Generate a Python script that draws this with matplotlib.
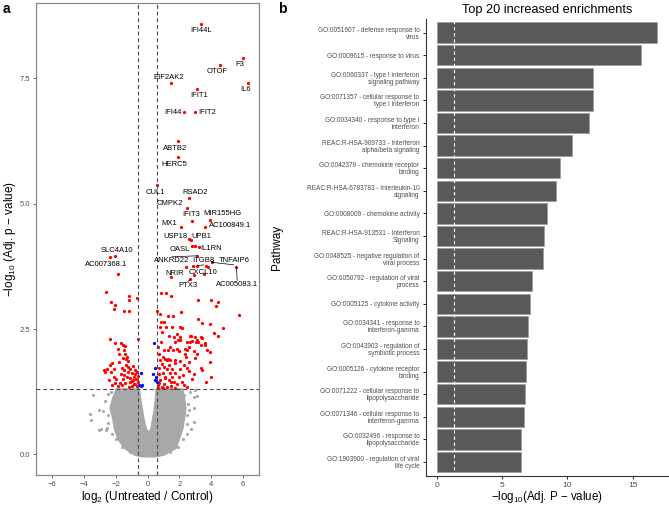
import matplotlib
matplotlib.use("Agg")
import matplotlib.pyplot as plt

plt.rcParams["font.family"] = ["Liberation Sans", "DejaVu Sans"]
plt.rcParams["mathtext.fontset"] = "custom"
plt.rcParams["mathtext.rm"] = "Liberation Sans"
plt.rcParams["mathtext.it"] = "Liberation Sans:italic"

# ---- panel a: volcano data (log2 FC, -log10 adj p) ----
genes = ["IFI44L", "F3", "OTOF", "IL6", "EIF2AK2", "IFIT1", "IFI44", "IFIT2", "ABTB2", "HERC5",
         "CUL1", "RSAD2", "CMPK2", "IFIT3", "MIR155HG", "MX1", "AC100849.1", "USP18", "UPB1", "OASL",
         "IL1RN", "ANKRD22", "ITGB8", "TNFAIP6", "NRIR", "CXCL10", "PTX3", "AC005083.1", "SLC4A10", "AC007368.1"]
gene_lfc = [3.38, 6.00, 4.58, 6.34, 1.48, 3.11, 2.30, 3.00, 1.92, 1.92,
            0.62, 2.59, 2.46, 2.78, 3.91, 2.11, 3.64, 2.63, 2.75, 2.80,
            3.21, 3.11, 3.11, 4.05, 1.50, 3.53, 2.69, 5.58, -2.36, -2.07]
gene_logp = [8.59, 7.90, 7.76, 7.40, 7.40, 7.28, 6.83, 6.83, 6.24, 5.92,
             5.38, 5.11, 4.92, 4.66, 4.68, 4.54, 4.54, 4.29, 4.27, 4.16,
             4.14, 3.96, 3.76, 3.83, 3.53, 3.60, 3.49, 3.74, 3.93, 3.96]
# where the repelled labels ended up
label_x = [3.38, 5.79, 4.39, 6.15, 1.31, 3.26, 1.60, 3.74, 1.73, 1.70,
           0.47, 2.96, 1.39, 2.74, 4.72, 1.35, 5.16, 1.73, 3.38, 2.02,
           4.01, 1.54, 3.53, 5.42, 1.69, 3.49, 2.55, 5.63, -1.92, -2.59]
label_y = [8.46, 7.77, 7.63, 7.27, 7.51, 7.15, 6.81, 6.81, 6.10, 5.79,
           5.22, 5.22, 5.00, 4.78, 4.80, 4.60, 4.56, 4.35, 4.34, 4.08,
           4.11, 3.86, 3.86, 3.86, 3.60, 3.62, 3.37, 3.39, 4.06, 3.79]
with_segment = ["ANKRD22", "ITGB8", "TNFAIP6", "PTX3", "AC005083.1"]

red_lfc = [-2.63, -2.28, -2.07, -2.13, -1.14, -1.14, -1.48, -1.16, -0.66, -1.88,
           -2.36, -2.01, -1.69, -1.56, -1.40, -0.60, -1.88, -1.46, -1.79, -1.40,
           -1.56, -1.29, -1.25, -1.77, -2.23, -2.34, -2.76, -2.69, -2.27, -2.09,
           -1.60, -1.33, -0.91, -1.21, -0.98, -0.77, -0.62, -1.29, -1.67, -1.56,
           -1.96, -2.40, -2.02, -1.75, -1.40, -1.12, -0.91, -0.77, -0.62, -0.98,
           -0.66, -1.88, -1.18, -2.55, -1.50, -1.08, -0.87, -2.13, -1.35, -1.10,
           -0.70, -1.45, -0.85, -1.60, -2.20, -0.80, -1.00, -0.65, -1.25,
           2.84, 3.70, 3.82, 2.90, 2.40, 2.96,
           0.87, 1.14, 1.48, 3.18, 4.01, 4.45, 4.28, 5.75, 0.62, 0.81,
           1.29, 1.58, 2.13, 3.18, 3.45, 3.91, 0.85, 1.06, 0.79, 1.16,
           1.56, 2.06, 2.16, 4.75, 4.20, 4.45, 0.93, 1.33, 1.64, 2.06,
           2.65, 3.01, 3.38, 3.59, 3.19, 2.69, 1.85, 2.73, 3.11, 3.42,
           3.63, 3.38, 3.91, 3.74, 3.91, 3.38, 3.00, 2.58, 2.37, 2.48,
           2.79, 3.04, 2.48, 2.06, 1.75, 1.91, 1.43, 1.60, 1.01, 1.26,
           1.85, 1.95, 2.33, 2.44, 2.90, 3.11, 1.12, 1.22, 1.43, 0.80,
           0.91, 1.75, 2.02, 2.27, 2.48, 2.58, 3.42, 1.33, 1.01, 1.22,
           1.54, 1.75, 1.96, 1.54, 1.12, 1.33, 0.80, 1.06, 0.70, 0.75,
           0.95, 1.40, 1.65, 1.85, 2.05, 2.15, 2.48, 2.80, 0.68, 0.90,
           1.20, 1.50, 1.75, 2.20, 2.60, 0.75, 1.00, 0.65, 0.85, 4.00,
           3.70, 2.95, 0.72, 1.10, 1.45, 0.64, 0.98, 1.30, 2.30, 1.70]
red_logp = [3.23, 3.03, 2.97, 2.89, 3.16, 3.08, 2.85, 2.85, 3.12, 3.60,
            2.30, 2.22, 2.23, 2.18, 2.17, 2.31, 2.10, 2.08, 2.01, 2.01,
            1.93, 1.95, 1.87, 1.85, 1.83, 1.79, 1.68, 1.64, 1.64, 1.70,
            1.73, 1.78, 1.76, 1.65, 1.62, 1.61, 1.57, 1.55, 1.60, 1.50,
            1.50, 1.48, 1.42, 1.43, 1.42, 1.45, 1.48, 1.41, 1.44, 1.37,
            1.36, 1.36, 1.34, 1.71, 1.68, 1.70, 1.55, 1.55, 1.90, 1.52,
            1.50, 1.58, 1.40, 1.38, 1.38, 1.68, 1.47, 1.65, 1.75,
            3.76, 3.76, 3.74, 3.58, 3.74, 4.15,
            3.21, 3.21, 3.15, 3.07, 3.07, 3.03, 2.95, 2.77, 2.85, 2.79,
            2.75, 2.75, 2.83, 2.71, 2.63, 2.61, 2.65, 2.64, 2.54, 2.54,
            2.54, 2.54, 2.53, 2.53, 2.42, 2.36, 2.44, 2.37, 2.35, 2.35,
            2.37, 2.35, 2.35, 2.22, 2.24, 2.24, 2.41, 2.36, 2.29, 2.33,
            2.18, 2.18, 2.05, 2.08, 1.85, 1.72, 1.92, 2.15, 2.11, 2.08,
            2.26, 2.25, 2.25, 2.28, 2.25, 2.28, 2.15, 2.09, 2.08, 2.08,
            2.11, 2.06, 2.00, 1.95, 2.07, 2.01, 1.91, 1.88, 1.89, 1.88,
            1.81, 1.88, 1.87, 1.78, 1.72, 1.67, 1.69, 1.78, 1.74, 1.70,
            1.70, 1.62, 1.55, 1.55, 1.55, 1.48, 1.48, 1.40, 1.60, 1.72,
            1.62, 1.62, 1.45, 1.40, 1.70, 1.45, 1.35, 1.50, 1.38, 1.35,
            1.35, 1.37, 1.33, 1.58, 1.85, 2.00, 1.95, 2.15, 2.25, 1.55,
            1.45, 1.60, 1.42, 1.52, 1.44, 1.33, 1.33, 1.90, 1.38, 1.82]

blue_lfc = [0.43, 0.49, 0.35, 0.55, 0.58, 0.47, -0.39, -0.52, -0.35, -0.43]
blue_logp = [2.23, 1.72, 1.60, 1.55, 1.45, 1.49, 1.63, 1.38, 1.38, 1.36]

# dense non-significant cloud: outline
cloud_y = [-0.03, 0.00, 0.13, 0.32, 0.52, 0.72, 0.92, 1.12, 1.29]
cloud_left = [-0.35, -0.77, -1.40, -1.82, -2.03, -2.13, -2.30, -2.13, -1.92]
cloud_right = [0.49, 1.00, 1.75, 1.96, 2.17, 2.27, 2.36, 2.27, 2.17]
notch_y = [0.40, 0.52, 0.72, 0.92, 1.12, 1.29]
notch_left = [0.07, -0.14, -0.28, -0.39, -0.49, -0.56]
notch_right = [0.07, 0.28, 0.38, 0.49, 0.55, 0.59]

grey_lfc = [-3.43, -3.60, -3.56, -2.93, -2.59, -2.80, -2.29, -3.06, -3.05, -2.55,
            -2.45, -2.66, -2.50, -2.30, -2.45, -2.25, -2.00, -1.60, -1.10,
            2.66, 2.91, 3.12, 2.53, 2.45, 2.91, 2.70, 2.07, 2.32, 2.90,
            2.60, 2.50, 2.20, 1.90, 1.40, 3.00, 2.45]
grey_logp = [1.18, 0.81, 0.69, 0.51, 0.49, 0.87, 0.91, 0.89, 0.49, 0.52,
             0.79, 1.06, 1.20, 1.25, 0.62, 0.40, 0.30, 0.15, 0.05,
             1.25, 1.15, 1.16, 1.01, 0.78, 0.65, 0.51, 1.28, 1.18, 0.92,
             0.88, 0.40, 0.30, 0.15, 0.05, 1.28, 0.60]

# ---- panel b: enrichment ----
pathways = ["GO:0051607 - defense response to\nvirus",
            "GO:0009615 - response to virus",
            "GO:0060337 - type I interferon\nsignaling pathway",
            "GO:0071357 - cellular response to\ntype I interferon",
            "GO:0034340 - response to type I\ninterferon",
            "REAC:R-HSA-909733 - Interferon\nalpha/beta signaling",
            "GO:0042379 - chemokine receptor\nbinding",
            "REAC:R-HSA-6783783 - Interleukin-10\nsignaling",
            "GO:0008009 - chemokine activity",
            "REAC:R-HSA-913531 - Interferon\nSignaling",
            "GO:0048525 - negative regulation of\nviral process",
            "GO:0050792 - regulation of viral\nprocess",
            "GO:0005125 - cytokine activity",
            "GO:0034341 - response to\ninterferon-gamma",
            "GO:0043903 - regulation of\nsymbiotic process",
            "GO:0005126 - cytokine receptor\nbinding",
            "GO:0071222 - cellular response to\nlipopolysaccharide",
            "GO:0071346 - cellular response to\ninterferon-gamma",
            "GO:0032496 - response to\nlipopolysaccharide",
            "GO:1903900 - regulation of viral\nlife cycle"]
enrich = [16.88, 15.66, 11.94, 11.94, 11.68, 10.33, 9.41, 9.10, 8.42, 8.24,
          8.11, 7.32, 7.16, 7.01, 6.89, 6.86, 6.73, 6.71, 6.48, 6.43]

W, H = 669, 505
fig = plt.figure(figsize=(W / 100, H / 100), dpi=100)
tick_grey = "#4d4d4d"

# ---------- a ----------
ax = fig.add_axes([36 / W, 1 - 475 / H, 223 / W, 472 / H])
gray = "#a8a8a8"
xs = cloud_left + notch_left[::-1] + notch_right + cloud_right[::-1]
ys = cloud_y + notch_y[::-1] + notch_y + cloud_y[::-1]
ax.fill(xs, ys, color=gray, ec=gray, lw=2.2, zorder=1)
ax.scatter(grey_lfc, grey_logp, s=5, c=gray, lw=0, zorder=1)
ax.scatter(red_lfc, red_logp, s=5.5, c="red", lw=0, zorder=2)
ax.scatter(gene_lfc, gene_logp, s=5.5, c="red", lw=0, zorder=2)
ax.scatter(blue_lfc, blue_logp, s=5.5, c="blue", lw=0, zorder=2)

dash = (0, (3.5, 2.5))
for v in (-0.585, 0.585):
    ax.axvline(v, color="#4a4a4a", lw=0.8, ls=dash, zorder=3)
ax.axhline(1.301, color="#4a4a4a", lw=0.8, ls=dash, zorder=3)

for g, px, py, lx, ly in zip(genes, gene_lfc, gene_logp, label_x, label_y):
    if g in with_segment:
        ax.plot([px, lx], [py, ly + (0.08 if ly < py else -0.08)], color="black", lw=0.5, zorder=3)
    ax.text(lx, ly, g, fontsize=5.5, ha="center", va="center", zorder=4)

ax.set_xlim(-7, 7)
ax.set_ylim(-0.41, 9.0)
ax.set_xticks([-6, -4, -2, 0, 2, 4, 6])
ax.set_yticks([0, 2.5, 5.0, 7.5])
ax.set_yticklabels(["0.0", "2.5", "5.0", "7.5"])
ax.tick_params(labelsize=5.5, labelcolor=tick_grey, color="#555555", length=2.5, width=0.6, pad=1.5)
for sp in ax.spines.values():
    sp.set_color("#8a8a8a")
    sp.set_linewidth(0.9)
ax.set_xlabel(r"log$_{\mathrm{2}}$ (Untreated / Control)", fontsize=8.5, labelpad=1)
ax.set_ylabel(r"$-$log$_{\mathrm{10}}$ (Adj. p $-$ value)", fontsize=8.5, labelpad=1)

# ---------- b ----------
bx = fig.add_axes([425.7 / W, 1 - 475.6 / H, 1 - 425.7 / W, (475.6 - 19) / H])
pos = list(range(1, len(pathways) + 1))
bx.barh(pos, enrich, height=0.9, color="#595959", ec="#9a9a9a", lw=0.5, zorder=1)
bx.axvline(1.301, color="white", lw=0.8, ls=(0, (3, 2.5)), zorder=2)
bx.set_xlim(-0.84, 17.77)
bx.set_ylim(20.6, 0.4)
bx.set_yticks(pos)
bx.set_yticklabels(pathways, fontsize=4.7, color=tick_grey, linespacing=1.0)
bx.set_xticks([0, 5, 10, 15])
bx.tick_params(axis="x", labelsize=6, labelcolor=tick_grey, length=2.5, width=0.6, pad=2)
bx.tick_params(axis="y", length=2.5, width=0.6, pad=2)
for s in ("top", "right"):
    bx.spines[s].set_visible(False)
for s in ("left", "bottom"):
    bx.spines[s].set_color("#333333")
    bx.spines[s].set_linewidth(0.8)
bx.set_title("Top 20 increased enrichments", fontsize=9.2, pad=4)
bx.set_xlabel(r"$-$log$_{\mathrm{10}}$(Adj. P $-$ value)", fontsize=8.3, labelpad=0)
bx.set_ylabel("Pathway", fontsize=8.5)
bx.yaxis.set_label_coords(-(425.7 - 283) / (W - 425.7), 0.5)

fig.text(3 / W, 1 - 2 / H, "a", fontsize=10, weight="bold", va="top")
fig.text(278 / W, 1 - 2 / H, "b", fontsize=10, weight="bold", va="top")

fig.savefig("out.png", dpi=100)
